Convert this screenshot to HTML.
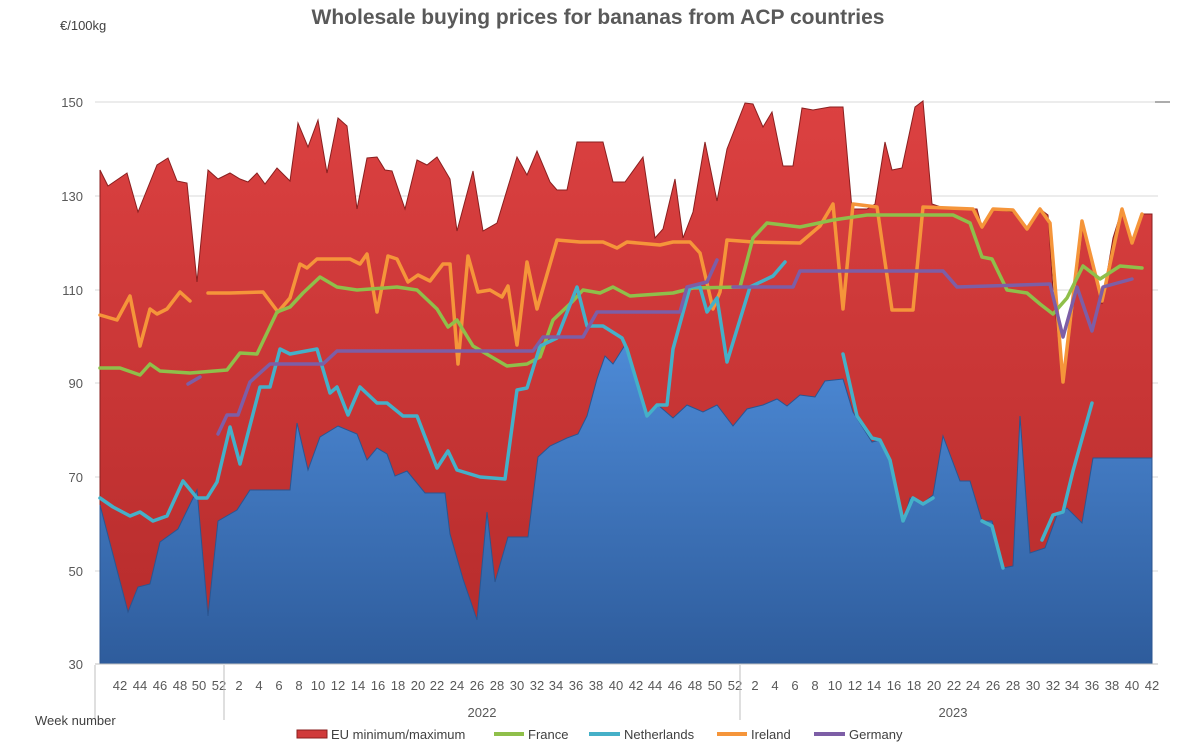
<!DOCTYPE html>
<html><head><meta charset="utf-8"><style>
body{margin:0;background:#fff;}
svg{display:block;font-family:"Liberation Sans",sans-serif;}
</style></head><body>
<svg width="1200" height="750" viewBox="0 0 1200 750">
<defs>
<linearGradient id="bl" x1="0" y1="0" x2="0" y2="1"><stop offset="0" stop-color="#4d8ad6"/><stop offset="1" stop-color="#2e5c9c"/></linearGradient>
<linearGradient id="rd" x1="0" y1="0" x2="0" y2="1"><stop offset="0" stop-color="#dc4141"/><stop offset="1" stop-color="#b52b2b"/></linearGradient>
</defs>
<text x="598" y="24" text-anchor="middle" font-size="21" font-weight="bold" fill="#595959">Wholesale buying prices for bananas from ACP countries</text>
<text x="60" y="30" font-size="13" fill="#404040">€/100kg</text>
<g stroke="#d9d9d9" stroke-width="1">
<line x1="95" y1="102" x2="1158" y2="102"/><line x1="95" y1="196" x2="1158" y2="196"/><line x1="95" y1="290" x2="1158" y2="290"/><line x1="95" y1="383" x2="1158" y2="383"/><line x1="95" y1="477" x2="1158" y2="477"/><line x1="95" y1="571" x2="1158" y2="571"/>
</g>
<line x1="1155" y1="102" x2="1170" y2="102" stroke="#595959"/>
<g font-size="13" fill="#595959" text-anchor="end">
<text x="83" y="107">150</text><text x="83" y="201">130</text><text x="83" y="295">110</text><text x="83" y="388">90</text><text x="83" y="482">70</text><text x="83" y="576">50</text><text x="83" y="669">30</text>
</g>
<polygon fill="url(#rd)" stroke="#8a1f1f" stroke-width="1" points="100,664 100,170 108,186 127,173 138,212 157,165 168,158 177,181 187,183 197,282 208,170 218,179 230,173 240,179 248,182 257,173 265,184 277,168 290,181 298,123 308,147 318,120 327,173 338,118 347,126 357,209 367,158 377,157 385,170 392,171 405,209 417,160 427,165 437,157 450,179 457,231 473,171 483,231 497,223 517,157 527,175 537,151 550,182 557,190 567,190 577,142 603,142 613,182 625,182 643,157 655,238 663,229 675,179 683,238 693,212 705,142 717,201 727,149 745,103 753,104 763,127 772,112 783,166 793,166 802,108 813,110 830,107 843,107 852,209 867,209 875,204 885,142 892,170 902,168 915,107 923,101 932,204 947,209 977,209 982,227 993,209 1013,212 1027,227 1040,209 1048,215 1053,290 1063,382 1073,309 1083,223 1093,268 1102,304 1113,238 1122,209 1132,242 1142,214 1152,214 1152,664"/>
<polygon fill="url(#bl)" stroke="#2b5590" stroke-width="1" points="100,664 100,505 128,612 138,587 150,584 160,542 178,529 197,490 208,616 218,521 237,510 250,490 290,490 297,423 308,470 320,437 338,426 357,434 367,460 377,448 387,454 395,476 407,471 425,493 445,493 450,534 463,579 477,620 487,512 495,582 508,537 528,537 538,457 550,446 567,438 578,434 587,416 597,379 605,356 613,364 625,345 637,379 647,416 658,405 673,418 687,405 703,412 717,405 733,426 747,409 763,405 777,399 787,406 800,395 815,397 825,381 843,379 853,412 872,442 880,440 888,454 903,523 910,498 922,504 933,495 943,436 960,481 970,481 982,521 992,521 1003,568 1013,566 1020,416 1030,553 1045,548 1057,515 1067,508 1082,523 1093,458 1152,458 1152,664"/>
<line x1="95" y1="664" x2="1158" y2="664" stroke="#bfbfbf"/>
<g fill="none" stroke-width="3.5" stroke-linejoin="round" stroke-linecap="round">
<polyline stroke="#f5953a" points="100,315 117,320 130,296 140,346 150,309 157,314 167,309 180,292 190,301"/>
<polyline stroke="#f5953a" points="208,293 230,293 263,292 278,312 290,298 300,264 307,268 317,259 350,259 360,264 367,254 377,312 388,256 397,259 408,282 418,275 430,281 443,264 450,264 458,364 468,256 478,292 490,290 502,297 508,286 517,345 527,262 537,309 557,240 580,242 603,242 617,248 627,242 660,245 673,242 690,242 700,253 713,309 720,292 727,240 753,242 800,243 820,226 833,204 843,309 853,204 877,207 892,310 913,310 923,207 973,209 982,227 993,209 1013,210 1027,229 1040,209 1050,223 1063,382 1082,221 1102,301 1122,209 1132,243 1142,214"/>
<polyline stroke="#8fbf4a" points="100,368 120,368 140,375 150,364 160,371 190,373 227,370 240,353 257,354 277,312 290,307 303,293 320,277 337,287 357,290 397,287 417,290 437,309 448,327 457,320 473,346 507,366 527,364 540,357 553,320 573,301 583,290 600,293 613,287 630,296 673,293 693,288 740,287 753,238 767,223 800,227 833,220 867,215 953,215 970,223 982,257 992,259 1007,290 1027,293 1040,304 1053,314 1067,298 1083,266 1100,279 1120,266 1142,268"/>
<polyline stroke="#45b0c8" points="100,498 113,507 130,516 140,512 153,521 167,516 183,481 197,498 207,498 217,482 230,427 240,464 260,387 270,387 280,349 290,354 317,349 330,393 337,387 348,415 360,387 377,403 387,403 403,416 417,416 437,468 448,451 457,470 480,477 505,479 517,390 527,388 540,346 557,338 577,287 587,326 603,326 622,338 627,349 647,416 657,405 667,405 673,349 690,287 700,287 707,312 717,298 727,362 750,287 773,276 785,262"/>
<polyline stroke="#45b0c8" points="843,354 857,416 872,438 880,440 890,460 903,521 913,498 923,504 933,498"/>
<polyline stroke="#45b0c8" points="982,521 992,526 1003,568"/>
<polyline stroke="#45b0c8" points="1042,540 1053,515 1063,512 1073,471 1092,403"/>
<polyline stroke="#7d5ea6" points="188,384 200,377"/>
<polyline stroke="#7d5ea6" points="218,434 227,415 238,415 250,382 270,364 323,364 337,351 533,351 543,337 583,337 597,312 680,312 687,287 707,282 717,260"/>
<polyline stroke="#7d5ea6" points="733,287 793,287 800,271 943,271 957,287 1050,284 1063,337 1077,287 1092,331 1103,287 1132,279"/>
</g>
<g font-size="13" fill="#595959" text-anchor="middle">
<text x="120" y="690">42</text><text x="140" y="690">44</text><text x="160" y="690">46</text><text x="180" y="690">48</text><text x="199" y="690">50</text><text x="219" y="690">52</text>
<text x="239" y="690">2</text><text x="259" y="690">4</text><text x="279" y="690">6</text><text x="299" y="690">8</text><text x="318" y="690">10</text><text x="338" y="690">12</text><text x="358" y="690">14</text><text x="378" y="690">16</text><text x="398" y="690">18</text><text x="418" y="690">20</text><text x="437" y="690">22</text><text x="457" y="690">24</text><text x="477" y="690">26</text><text x="497" y="690">28</text><text x="517" y="690">30</text><text x="537" y="690">32</text><text x="556" y="690">34</text><text x="576" y="690">36</text><text x="596" y="690">38</text><text x="616" y="690">40</text><text x="636" y="690">42</text><text x="655" y="690">44</text><text x="675" y="690">46</text><text x="695" y="690">48</text><text x="715" y="690">50</text><text x="735" y="690">52</text>
<text x="755" y="690">2</text><text x="775" y="690">4</text><text x="795" y="690">6</text><text x="815" y="690">8</text><text x="835" y="690">10</text><text x="855" y="690">12</text><text x="874" y="690">14</text><text x="894" y="690">16</text><text x="914" y="690">18</text><text x="934" y="690">20</text><text x="954" y="690">22</text><text x="973" y="690">24</text><text x="993" y="690">26</text><text x="1013" y="690">28</text><text x="1033" y="690">30</text><text x="1053" y="690">32</text><text x="1072" y="690">34</text><text x="1092" y="690">36</text><text x="1112" y="690">38</text><text x="1132" y="690">40</text><text x="1152" y="690">42</text>
<text x="482" y="717">2022</text><text x="953" y="717">2023</text>
</g>
<g stroke="#bfbfbf"><line x1="95" y1="665" x2="95" y2="720"/><line x1="224" y1="665" x2="224" y2="720"/><line x1="740" y1="665" x2="740" y2="720"/></g>
<text x="35" y="725" font-size="13" fill="#404040">Week number</text>
<g font-size="13" fill="#404040">
<rect x="297" y="730" width="30" height="8" fill="#d03a3a" stroke="#8a1f1f"/><text x="331" y="739">EU minimum/maximum</text>
<line x1="494" y1="734" x2="524" y2="734" stroke="#8fbf4a" stroke-width="4"/><text x="528" y="739">France</text>
<line x1="589" y1="734" x2="620" y2="734" stroke="#45b0c8" stroke-width="4"/><text x="624" y="739">Netherlands</text>
<line x1="717" y1="734" x2="747" y2="734" stroke="#f5953a" stroke-width="4"/><text x="751" y="739">Ireland</text>
<line x1="814" y1="734" x2="845" y2="734" stroke="#7d5ea6" stroke-width="4"/><text x="849" y="739">Germany</text>
</g>
</svg>
</body></html>
